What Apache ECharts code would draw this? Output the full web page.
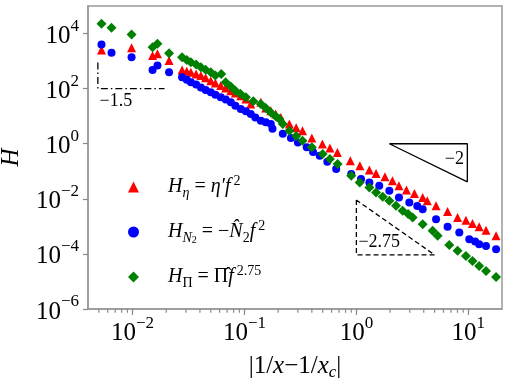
<!DOCTYPE html>
<html>
<head>
<meta charset="utf-8">
<script src="https://cdn.jsdelivr.net/npm/echarts@6/dist/echarts.min.js"></script>
<style>
html, body { margin: 0; padding: 0; background: #fff; }
#chart { width: 505px; height: 386px; }
</style>
</head>
<body>
<div id="chart"></div>
<script>
// H_eta = eta' f^2   [|1/x - 1/xc|, H]
const etaData = [
  [0.00528, 2550], [0.0098, 3020], [0.0151, 1585], [0.0167, 1830], [0.0212, 1043],
  [0.0277, 479], [0.0305, 430], [0.0332, 392], [0.037, 340], [0.0408, 297],
  [0.045, 250], [0.050, 195], [0.055, 160], [0.0614, 129], [0.068, 105],
  [0.0755, 84.6], [0.083, 70], [0.0927, 55.6], [0.103, 42], [0.1138, 27.8],
  [0.14, 31.8], [0.155, 20], [0.172, 15.8], [0.19, 12], [0.211, 9.04],
  [0.252, 5.2], [0.29, 3.8], [0.33, 2.97], [0.40, 1.6], [0.497, 0.975],
  [0.58, 0.7], [0.676, 0.483], [0.883, 0.241], [1.074, 0.158], [1.306, 0.111],
  [1.5, 0.0832], [1.8, 0.0631], [2.1, 0.0451], [2.4, 0.0297], [2.8, 0.0207],
  [3.3, 0.0156], [3.91, 0.0111], [4.3, 0.00846], [5.15, 0.00556], [6.53, 0.00345],
  [8.02, 0.00209], [9.53, 0.00168], [10.9, 0.00126], [12.5, 0.00096], [14.4, 0.00073],
  [17.7, 0.000452]
];
// H_N2 = -N2 f^2
const n2Data = [
  [0.00528, 3980], [0.00649, 1990], [0.0098, 1375], [0.0151, 479], [0.0167, 686],
  [0.0212, 392], [0.0277, 258], [0.0305, 210], [0.0332, 169], [0.037, 140],
  [0.0408, 111], [0.045, 90], [0.050, 73.3], [0.055, 60], [0.0614, 48.3],
  [0.068, 40], [0.0755, 31.8], [0.083, 24], [0.0927, 18.3], [0.103, 15],
  [0.1138, 12.0], [0.125, 9], [0.14, 6.86], [0.155, 6], [0.172, 5.2],
  [0.178, 3.51], [0.22, 2.31], [0.26, 1.6], [0.30, 1.1], [0.36, 0.75],
  [0.41, 0.5], [0.47, 0.366], [0.55, 0.22], [0.66, 0.12], [0.9, 0.079],
  [1.1, 0.052], [1.306, 0.0392], [1.6, 0.0297], [1.97, 0.0195], [2.4, 0.0111],
  [2.97, 0.00733], [3.5, 0.0055], [3.91, 0.00422], [5.15, 0.00183], [6.53, 0.00096],
  [8.31, 0.000595], [10.2, 0.000343], [11.5, 0.00028], [12.5, 0.000225], [14.4, 0.000195],
  [17.7, 0.000148]
];
// H_Pi = Pi f^2.75
const piData = [
  [0.00528, 22500], [0.00649, 16100], [0.0098, 9200], [0.0151, 3170], [0.0167, 4220],
  [0.0212, 1920], [0.0277, 1375], [0.0305, 1100], [0.0332, 904], [0.037, 750],
  [0.0408, 596], [0.045, 480], [0.050, 392], [0.055, 300], [0.062, 343],
  [0.068, 169], [0.0755, 120], [0.083, 84.6], [0.092, 65], [0.103, 48.3],
  [0.12, 35], [0.14, 27.8], [0.155, 20], [0.172, 13.7], [0.19, 10],
  [0.205, 7.91], [0.22, 5.2], [0.252, 2.97], [0.29, 1.9], [0.33, 1.29],
  [0.40, 0.75], [0.5, 0.422], [0.58, 0.28], [0.68, 0.183], [0.9, 0.0686],
  [1.07, 0.0392], [1.306, 0.0258], [1.5, 0.0169], [1.72, 0.0118], [1.97, 0.00846],
  [2.26, 0.00556], [2.59, 0.00366], [2.9, 0.0028], [3.18, 0.00209], [3.91, 0.0012],
  [4.8, 0.00069], [5.32, 0.000452], [6.76, 0.000212], [8.02, 0.000129], [9.53, 8.46e-5],
  [10.9, 5.56e-5], [12.5, 3.66e-5], [14.4, 2.41e-5], [17.7, 1.46e-5]
];

// slope guide triangles
const tri15 = [[0.0049, 880], [0.0049, 100], [0.0193, 100]];
const tri2 = [[1.97, 1.0], [9.8, 1.0], [9.8, 0.0415], [1.97, 1.0]];
const tri275 = [[1.0, 0.009], [1.0, 9.2e-5], [5.0, 9.2e-5], [1.0, 0.009]];
const slopeLabels = [
  { name: '\u22121.5', value: [0.0071, 36] },
  { name: '\u22122', value: [7.5, 0.28] },
  { name: '\u22122.75', value: [1.6, 2.7e-4] }
];

// x-axis minor ticks
const minorTicks = [0.005, 0.006, 0.007, 0.008, 0.009, 0.02, 0.03, 0.04, 0.05, 0.06, 0.07, 0.08, 0.09,
  0.2, 0.3, 0.4, 0.5, 0.6, 0.7, 0.8, 0.9, 2, 3, 4, 5, 6, 7, 8, 9];

const xMin = 0.004, xMax = 20, yMin = 1e-6, yMax = 1e5;

const serif = 'Liberation Serif';
const legendText = {
  eta: '{i|H}{sub|\u03b7}{t| = }{i|\u03b7\u2032f}{sup|2}',
  n2: '{i|H}{sub|N}{ss|2}{t| = \u2212}{i|N\u0302}{sub2|2}{i|f}{sup|2}',
  pi: '{i|H}{subu|\u03a0}{t| = \u03a0\u0302}{i|f}{sup|2.75}'
};

function powLabel(v) {
  const e = Math.round(Math.log10(v));
  return '{b|10}{s|' + String(e).replace('-', '\u2212') + '}';
}
const powRich = {
  b: { fontFamily: serif, fontSize: 25, color: '#000', verticalAlign: 'bottom' },
  s: { fontFamily: serif, fontSize: 17, color: '#000', verticalAlign: 'top', padding: [0, 0, 14, 0] }
};

var myChart = echarts.init(document.getElementById('chart'));
var option = {
  animation: false,
  grid: {
    left: 88, right: 3, top: 6, bottom: 77,
    outerBoundsMode: 'none',
    show: true, borderColor: '#999', borderWidth: 1.5
  },
  legend: {
    data: ['eta', 'n2', 'pi'],
    orient: 'vertical',
    left: 123,
    top: 169,
    itemGap: 19,
    itemWidth: 11,
    itemHeight: 11,
    formatter: (name) => legendText[name],
    textStyle: {
      padding: [0, 0, 0, 24],
      rich: {
        i: { fontFamily: serif, fontStyle: 'italic', fontSize: 20, color: '#000' },
        t: { fontFamily: serif, fontSize: 20, color: '#000' },
        sub: { fontFamily: serif, fontStyle: 'italic', fontSize: 14, color: '#000', verticalAlign: 'bottom', padding: [12, 0, 0, 0] },
        subu: { fontFamily: serif, fontSize: 14, color: '#000', verticalAlign: 'bottom', padding: [12, 0, 0, 0] },
        sub2: { fontFamily: serif, fontSize: 14, color: '#000', verticalAlign: 'bottom', padding: [12, 0, 0, 0] },
        ss: { fontFamily: serif, fontSize: 10, color: '#000', verticalAlign: 'bottom', padding: [16, 0, 0, 0] },
        sup: { fontFamily: serif, fontSize: 14, color: '#000', verticalAlign: 'top', padding: [0, 0, 12, 3] }
      }
    }
  },
  xAxis: {
    type: 'log',
    min: xMin,
    max: xMax,
    name: '{n||1/}{i|x}{n|\u22121/}{i|x}{sub|c}{n||}',
    nameLocation: 'middle',
    nameGap: 43,
    nameTextStyle: {
      rich: {
        n: { fontFamily: serif, fontSize: 25, color: '#000' },
        i: { fontFamily: serif, fontStyle: 'italic', fontSize: 25, color: '#000' },
        sub: { fontFamily: serif, fontStyle: 'italic', fontSize: 17, color: '#000', verticalAlign: 'bottom', padding: [12, 0, 0, 0] }
      }
    },
    axisLine: { onZero: false, lineStyle: { color: '#999', width: 1.5 } },
    axisTick: { length: 6, lineStyle: { color: '#888', width: 1.2 } },
    axisLabel: { margin: 6, showMinLabel: false, showMaxLabel: false, formatter: powLabel, rich: powRich },
    splitLine: { show: false }
  },
  yAxis: {
    type: 'log',
    min: yMin,
    max: yMax,
    interval: 2,
    name: 'H',
    nameLocation: 'middle',
    nameRotate: 90,
    nameGap: 64,
    nameTextStyle: { fontFamily: serif, fontStyle: 'italic', fontSize: 25, color: '#000' },
    axisLine: { onZero: false, lineStyle: { color: '#999', width: 1.5 } },
    axisTick: { length: 5, lineStyle: { color: '#888', width: 1.2 } },
    axisLabel: { margin: 9, showMaxLabel: false, formatter: powLabel, rich: powRich },
    splitLine: { show: false }
  },
  series: [
    {
      name: 'slope15', type: 'line', data: tri15, symbol: 'none', silent: true,
      lineStyle: { color: '#000', width: 1.3, type: [7, 3, 1.5, 3] }
    },
    {
      name: 'slope2', type: 'line', data: tri2, symbol: 'none', silent: true,
      lineStyle: { color: '#000', width: 1.3 }
    },
    {
      name: 'slope275', type: 'line', data: tri275, symbol: 'none', silent: true,
      lineStyle: { color: '#000', width: 1.3, type: [5, 3] }
    },
    {
      name: 'slopeText', type: 'scatter', data: slopeLabels, symbolSize: 0, silent: true,
      itemStyle: { opacity: 1 },
      label: {
        show: true, position: 'inside', formatter: (p) => p.name,
        fontFamily: serif, fontSize: 18, color: '#000', textBorderWidth: 0
      }
    },
    {
      name: 'minor', type: 'scatter', silent: true, clip: false,
      data: minorTicks.map((v) => [v, yMin]),
      symbol: 'rect', symbolSize: [1.2, 3.5], symbolOffset: [0, 2],
      itemStyle: { color: '#888', opacity: 1 }
    },
    { name: 'eta', type: 'scatter', data: etaData, symbol: 'triangle', symbolSize: 9, itemStyle: { color: '#ff0000', opacity: 1 } },
    { name: 'n2', type: 'scatter', data: n2Data, symbol: 'circle', symbolSize: 8, itemStyle: { color: '#0000ff', opacity: 1 } },
    { name: 'pi', type: 'scatter', data: piData, symbol: 'diamond', symbolSize: 10, itemStyle: { color: '#008000', opacity: 1 } }
  ]
};
option && myChart.setOption(option);
</script>
</body>
</html>
